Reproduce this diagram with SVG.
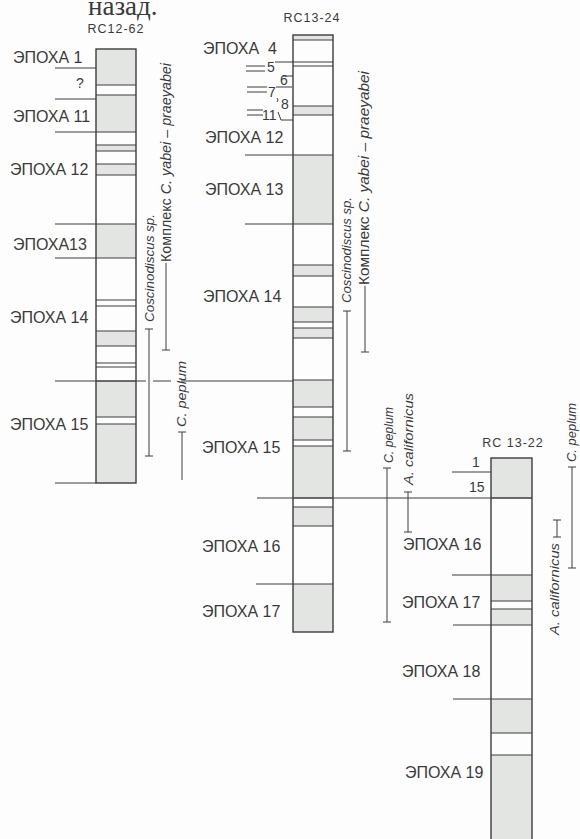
<svg xmlns="http://www.w3.org/2000/svg" width="580" height="839" viewBox="0 0 580 839">
<style>
.sh{fill:#e3e5e3;stroke:none}
.bl{stroke:#3c3c3c;stroke-width:1;fill:none}
.col{fill:none;stroke:#3c3c3c;stroke-width:1.4}
.ld{stroke:#3c3c3c;stroke-width:1;fill:none}
.lb{font-family:"Liberation Sans",Arial,sans-serif;font-size:16px;fill:#3a3a3a}
.sm{font-family:"Liberation Sans",Arial,sans-serif;font-size:14px;fill:#3a3a3a}
.ti{font-family:"Liberation Sans",Arial,sans-serif;font-size:12.5px;fill:#3a3a3a;letter-spacing:1px}
.it{font-family:"Liberation Sans",Arial,sans-serif;font-size:13px;font-style:italic;fill:#3a3a3a}
.kp{font-family:"Liberation Sans",Arial,sans-serif;font-size:14px;fill:#3a3a3a}
</style>
<rect width="580" height="839" fill="#fdfdfd"/>
<text x="88" y="15" font-family="'Liberation Serif','Times New Roman',serif" font-size="27" fill="#3a3a3a">назад.</text>

<g id="core-rc12-62">
<text class="ti" x="116" y="33" text-anchor="middle">RC12-62</text>
<rect class="sh" x="96" y="49" width="40" height="36"/>
<rect class="sh" x="96" y="95" width="40" height="37"/>
<rect class="sh" x="96" y="145" width="40" height="6"/>
<rect class="sh" x="96" y="164" width="40" height="11"/>
<rect class="sh" x="96" y="224" width="40" height="34"/>
<rect class="sh" x="96" y="331" width="40" height="15"/>
<rect class="sh" x="96" y="381" width="40" height="36"/>
<rect class="sh" x="96" y="424" width="40" height="59"/>
<path class="bl" d="M96,85H136M96,95H136M96,132H136M96,145H136M96,151H136M96,164H136M96,175H136M96,224H136M96,258H136M96,300H136M96,306H136M96,331H136M96,346H136M96,363H136M96,367H136M96,381H136M96,417H136M96,424H136"/>
<rect class="col" x="96" y="49" width="40" height="434"/>
<text class="lb" x="13" y="63">ЭПОХА 1</text>
<text class="sm" x="76" y="88">?</text>
<text class="lb" x="13" y="122">ЭПОХА 11</text>
<text class="lb" x="10" y="175">ЭПОХА 12</text>
<text class="lb" x="13" y="250">ЭПОХА13</text>
<text class="lb" x="10" y="323">ЭПОХА 14</text>
<text class="lb" x="10" y="430">ЭПОХА 15</text>
</g>

<g id="core-rc13-24">
<text class="ti" x="312" y="22" text-anchor="middle">RC13-24</text>
<rect class="sh" x="293" y="35" width="40" height="5"/>
<rect class="sh" x="293" y="106" width="40" height="9"/>
<rect class="sh" x="293" y="155" width="40" height="69"/>
<rect class="sh" x="293" y="265" width="40" height="11"/>
<rect class="sh" x="293" y="307" width="40" height="15"/>
<rect class="sh" x="293" y="328" width="40" height="10"/>
<rect class="sh" x="293" y="380" width="40" height="27"/>
<rect class="sh" x="293" y="417" width="40" height="23"/>
<rect class="sh" x="293" y="446" width="40" height="52"/>
<rect class="sh" x="293" y="507" width="40" height="19"/>
<rect class="sh" x="293" y="584" width="40" height="48"/>
<path class="bl" d="M293,40H333M293,62H333M293,66H333M293,106H333M293,115H333M293,155H333M293,224H333M293,265H333M293,276H333M293,307H333M293,322H333M293,328H333M293,338H333M293,380H333M293,407H333M293,417H333M293,440H333M293,446H333M293,498H333M293,507H333M293,526H333M293,584H333"/>
<rect class="col" x="293" y="35" width="40" height="597"/>
<text class="lb" x="203" y="54">ЭПОХА</text>
<text class="lb" x="268" y="54">4</text>
<text class="sm" x="267" y="72">5</text>
<text class="sm" x="280" y="85">6</text>
<text class="sm" x="268" y="97">7</text>
<text class="sm" x="281" y="109">8</text>
<text class="sm" x="262" y="120">11</text>
<text class="lb" x="205" y="143">ЭПОХА 12</text>
<text class="lb" x="205" y="195">ЭПОХА 13</text>
<text class="lb" x="203" y="302">ЭПОХА 14</text>
<text class="lb" x="202" y="453">ЭПОХА 15</text>
<text class="lb" x="202" y="552">ЭПОХА 16</text>
<text class="lb" x="202" y="617">ЭПОХА 17</text>
</g>

<g id="core-rc13-22">
<text class="ti" x="513" y="447" text-anchor="middle" letter-spacing="2">RC 13-22</text>
<rect class="sh" x="491" y="458" width="41" height="40"/>
<rect class="sh" x="491" y="575" width="41" height="26"/>
<rect class="sh" x="491" y="609" width="41" height="16"/>
<rect class="sh" x="491" y="699" width="41" height="34"/>
<rect class="sh" x="491" y="755" width="41" height="90"/>
<path class="bl" d="M491,498H532M491,575H532M491,601H532M491,609H532M491,625H532M491,699H532M491,733H532M491,755H532"/>
<rect class="col" x="491" y="458" width="41" height="392"/>
<text class="sm" x="472" y="467">1</text>
<text class="sm" x="469" y="492">15</text>
<text class="lb" x="403" y="550">ЭПОХА 16</text>
<text class="lb" x="402" y="608">ЭПОХА 17</text>
<text class="lb" x="402" y="677">ЭПОХА 18</text>
<text class="lb" x="405" y="778">ЭПОХА 19</text>
</g>

<g id="ranges">
<g id="r1-cosc">
<text class="it" transform="translate(154,322) rotate(-90)" textLength="108" lengthAdjust="spacingAndGlyphs">Coscinodiscus sp.</text>
<path class="ld" d="M149,329V456M145,329H153M145,456H153"/>
</g>
<g id="r1-kompl">
<text class="kp" transform="translate(171,262) rotate(-90)" textLength="199" lengthAdjust="spacingAndGlyphs">Комплекс <tspan font-style="italic">C. yabei – praeyabei</tspan></text>
<path class="ld" d="M166,263V350M162,350H170"/>
</g>
<g id="r1-pep">
<text class="it" transform="translate(186,427) rotate(-90)" textLength="66" lengthAdjust="spacingAndGlyphs">C. peplum</text>
<path class="ld" d="M182,432V480M178,432H186"/>
</g>
<g id="r2-cosc">
<text class="it" transform="translate(351,303) rotate(-90)" textLength="106" lengthAdjust="spacingAndGlyphs">Coscinodiscus sp.</text>
<path class="ld" d="M347,311V451M343,311H351M343,451H351"/>
</g>
<g id="r2-kompl">
<text class="kp" transform="translate(369,285) rotate(-90)" textLength="214" lengthAdjust="spacingAndGlyphs">Комплекс <tspan font-style="italic">C. yabei – praeyabei</tspan></text>
<path class="ld" d="M365,286V352M361,352H369"/>
</g>
<g id="r2-pep">
<text class="it" transform="translate(393,463) rotate(-90)" textLength="56" lengthAdjust="spacingAndGlyphs">C. peplum</text>
<path class="ld" d="M387,468V622M383,468H391M383,622H391"/>
</g>
<g id="r2-calif">
<text class="it" transform="translate(413,485) rotate(-90)" textLength="92" lengthAdjust="spacingAndGlyphs">A. californicus</text>
<path class="ld" d="M408,492V532M404,492H412M404,532H412"/>
</g>
<g id="r3-pep">
<text class="it" transform="translate(576,462) rotate(-90)" textLength="59" lengthAdjust="spacingAndGlyphs">C. peplum</text>
<path class="ld" d="M572,467V568M568,467H576M568,568H576"/>
</g>
<g id="r3-calif">
<text class="it" transform="translate(559,635) rotate(-90)" textLength="92" lengthAdjust="spacingAndGlyphs">A. californicus</text>
<path class="ld" d="M557,520V537M553,520H561M553,537H561"/>
</g>
</g>

<g id="connectors">
<path class="ld" d="M55,68H96M55,99H96M55,132H96M55,224H96M55,258H96M55,483H96"/>
<path class="ld" d="M55,381H146M153,381H171M181,381H293"/>
<path class="ld" d="M245,155H293M245,224H293M256,584H293"/>
<path class="ld" d="M257,498H532"/>
<path class="ld" d="M246,66H265M246,71H265M275,62H293M283,76H293M247,87H267M247,92H267M276,87H292M247,110H263M247,115H263M278,112L281,120H293"/>
<path class="ld" d="M277,98q2,2 0,4"/>
<path class="ld" d="M452,472H491M452,575H491M453,625H491M453,699H491"/>
</g>
</svg>
